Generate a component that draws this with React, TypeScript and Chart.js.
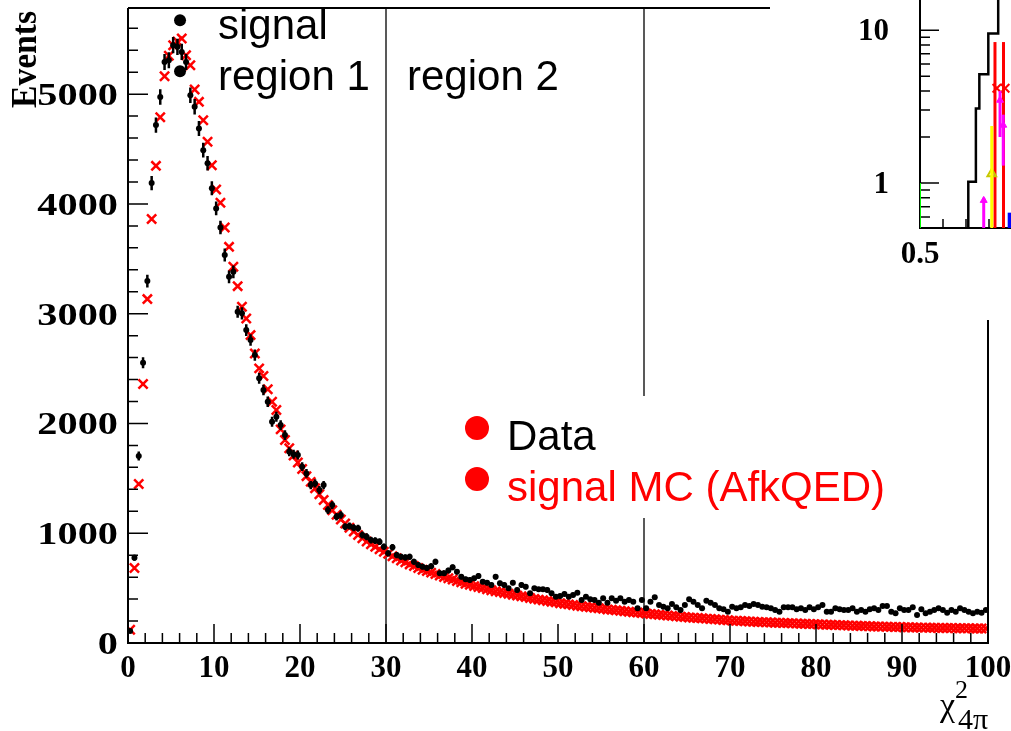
import React, { useEffect, useRef } from "react";
import { Chart, registerables } from "chart.js";
Chart.register(...registerables);

// ---------- main histogram data (bins of width 0.5 on chi2 from 0 to 100) ----------
const BIN_WIDTH = 0.5;
const X_MIN = 0;
const X_MAX = 100;
const Y_MAX = 5785;

const dataCounts: number[] = [
  110, 777, 1703, 2553, 3297, 4190, 4718, 4975, 5294, 5310, 5446, 5431, 5385, 5294, 4990, 4885, 4687, 4490, 4370, 4143, 3959, 3786,
  3534, 3336, 3382, 3017, 3003, 2851, 2760, 2623, 2411, 2304, 2198, 2016, 2061, 1985, 1894, 1742, 1720, 1712, 1606, 1545, 1439, 1454, 1393, 1439, 1211, 1257, 1150, 1166,
  1059, 1066, 1050, 1045, 984, 968, 938, 932, 923, 877, 817, 872, 801, 786, 780, 786, 740, 710, 695, 683, 700, 740,
  635, 635, 660, 689, 649, 604, 580, 574, 589, 610,
  558, 549, 528, 604, 544, 528, 498, 549, 483, 528,
  513, 453, 498, 489, 489, 483, 453, 422, 428, 446,
  422, 437, 458, 392, 422, 398, 392, 367, 407, 367,
  407, 385, 407, 376, 392, 376, 316, 392, 316, 376,
  416, 346, 331, 316, 355, 325, 301, 346, 398, 376,
  346, 316, 385, 367, 346, 316, 307, 285, 331, 316,
  325, 346, 337, 355, 346, 331, 325, 316, 301, 285,
  325, 325, 325, 307, 316, 301, 325, 307, 325, 346,
  285, 285, 316, 307, 301, 301, 316, 285, 301, 285,
  307, 316, 301, 337, 337, 285, 270, 316, 301, 301,
  325, 255, 307, 270, 285, 301, 316, 301, 276, 301,
  285, 316, 301, 285, 270, 285, 276, 301,
];

const mcCounts: number[] = [
  120, 683, 1448, 2359, 3133, 3862, 4347, 4790, 5164, 5350, 5446, 5480, 5507, 5355, 5264, 5043, 4930, 4763, 4566, 4353,
  4132, 4010, 3786, 3609, 3427, 3251, 3063, 2957, 2805, 2638, 2502, 2432, 2311, 2198, 2122, 1946, 1849,
  1775, 1708, 1645, 1585, 1520, 1468, 1410, 1355, 1302, 1258, 1210, 1168, 1125, 1088, 1050, 1015, 984, 955, 925, 900, 876, 853, 832,
  812, 790, 772, 751, 735, 716, 701, 684, 668, 655, 641, 628, 615, 602, 590, 578, 565, 553, 540, 530,
  518, 510, 500, 490, 481, 472, 465, 455, 448, 440, 432, 425, 418, 410, 402, 395, 390, 382, 376, 370,
  362, 357, 352, 346, 340, 335, 330, 326, 320, 316, 311, 306, 302, 298, 294, 289, 285, 281, 277, 272,
  268, 265, 262, 258, 254, 250, 247, 244, 240, 237, 233, 230, 228, 225, 222, 219, 216, 213, 210, 207,
  204, 202, 200, 198, 196, 194, 192, 190, 189, 187, 185, 184, 182, 181, 179, 178, 176, 175, 173, 172,
  170, 169, 167, 166, 164, 163, 161, 160, 158, 157, 155, 154, 152, 151, 150, 149, 148, 147, 146, 145,
  144, 143, 142, 141, 140, 140, 139, 138, 137, 137, 136, 136, 135, 135, 134, 134, 133, 133, 132, 132,
];

const binCenters: number[] = dataCounts.map((_, i) => X_MIN + BIN_WIDTH * (i + 0.5));

// big black markers drawn near the peak
const markerX = [6.05, 6.05];
const markerY = [5674, 5209];

// region boundaries
const regionLines = [30, 60];
const xTickLabels = ["0", "10", "20", "30", "40", "50", "60", "70", "80", "90", "100"];
const yTickLabels = ["0", "1000", "2000", "3000", "4000", "5000"];

// ---------- inset (log scale) ----------
const insetEdges = [0.5, 0.71, 0.743, 0.758, 0.797, 0.84, 0.95];
const insetCounts = [0.4, 1.02, 3.07, 5.15, 9.5, 40];
const insetGreen = { x: 0.5, low: 0.4, high: 1.0 };
const insetYellow = { x: 0.812, low: 0.4, high: 2.36, mark: 1.15 };
const insetRedX = [0.826, 0.863];
const insetRedTop = [8.36, 8.36];
const insetRedMarkX = [0.834, 0.87];
const insetRedMarkY = [4.17, 4.17];
const insetMagentaX = [0.777, 0.848, 0.862];
const insetMagentaLow = [0.4, 2.0, 1.3];
const insetMagentaHigh = [0.8, 4.0, 2.8];
const insetMagentaMark = [0.77, 3.48, 2.39];
const insetBlue = { x: 0.89, low: 0.4, high: 0.64 };
const insetYLabels = ["1", "10"];

const SERIF = '"Liberation Serif", "Times New Roman", serif';
const SANS = '"Liberation Sans", Arial, sans-serif';

const mainDecor = {
  id: "mainDecor",
  beforeDatasetsDraw(chart: any) {
    const { ctx, chartArea: a } = chart;
    const x = chart.scales.x;
    ctx.save();
    ctx.strokeStyle = "#222";
    ctx.lineWidth = 1.5;
    regionLines.forEach((v) => {
      const px = x.getPixelForValue(v);
      ctx.beginPath();
      ctx.moveTo(px, a.top);
      ctx.lineTo(px, a.bottom);
      ctx.stroke();
    });
    ctx.restore();
  },
  afterDatasetsDraw(chart: any) {
    const { ctx } = chart;
    const x = chart.scales.x;
    const y = chart.scales.y;
    ctx.save();
    ctx.strokeStyle = "#000";
    ctx.lineWidth = 2.5;
    ctx.beginPath();
    dataCounts.forEach((v, i) => {
      const cx = x.getPixelForValue(binCenters[i]);
      const e = Math.sqrt(v);
      ctx.moveTo(cx, y.getPixelForValue(v + e));
      ctx.lineTo(cx, y.getPixelForValue(Math.max(0, v - e)));
    });
    ctx.stroke();
    ctx.lineWidth = 1.5;
    ctx.beginPath();
    dataCounts.forEach((v, i) => {
      const py = y.getPixelForValue(v);
      ctx.moveTo(x.getPixelForValue(binCenters[i] - BIN_WIDTH / 2), py);
      ctx.lineTo(x.getPixelForValue(binCenters[i] + BIN_WIDTH / 2), py);
    });
    ctx.stroke();
    ctx.restore();
  },
  afterDraw(chart: any) {
    const { ctx, chartArea: a } = chart;
    const x = chart.scales.x;
    const y = chart.scales.y;
    ctx.save();
    // frame
    ctx.strokeStyle = "#000";
    ctx.lineWidth = 2;
    ctx.beginPath();
    ctx.moveTo(a.left, a.top);
    ctx.lineTo(a.left, a.bottom);
    ctx.lineTo(a.right, a.bottom);
    ctx.lineTo(a.right, a.top);
    ctx.lineTo(a.left, a.top);
    ctx.stroke();
    // ticks (inward)
    ctx.lineWidth = 1.5;
    ctx.beginPath();
    for (let v = X_MIN; v <= X_MAX; v += 2) {
      const px = x.getPixelForValue(v);
      const len = v % 10 === 0 ? 19 : 10;
      ctx.moveTo(px, a.bottom);
      ctx.lineTo(px, a.bottom - len);
    }
    for (let v = 0; v <= Y_MAX; v += 200) {
      const py = y.getPixelForValue(v);
      const len = v % 1000 === 0 ? 20 : 10;
      ctx.moveTo(a.left, py);
      ctx.lineTo(a.left + len, py);
    }
    ctx.stroke();
    // tick labels
    ctx.fillStyle = "#000";
    ctx.font = `bold 31px ${SERIF}`;
    ctx.textAlign = "center";
    ctx.textBaseline = "alphabetic";
    xTickLabels.forEach((t) => {
      ctx.fillText(t, x.getPixelForValue(Number(t)), 677);
    });
    ctx.textAlign = "right";
    yTickLabels.forEach((t) => {
      const py = y.getPixelForValue(Number(t));
      ctx.save();
      ctx.translate(118, py + 11);
      ctx.scale(1.26, 1);
      ctx.font = `bold 32px ${SERIF}`;
      ctx.fillText(t, 0, 0);
      ctx.restore();
    });
    // y title
    ctx.save();
    ctx.translate(36, 108);
    ctx.rotate(-Math.PI / 2);
    ctx.scale(0.96, 1);
    ctx.textAlign = "left";
    ctx.font = `bold 35px ${SERIF}`;
    ctx.fillText("Events", 0, 0);
    ctx.restore();
    // x title chi^2_{4pi}
    ctx.textAlign = "left";
    ctx.font = `34px ${SERIF}`;
    ctx.fillText("χ", 940, 716);
    ctx.font = `26px ${SERIF}`;
    ctx.fillText("2", 955, 698);
    ctx.font = `30px ${SERIF}`;
    ctx.fillText("4π", 958, 729);
    // region labels
    ctx.font = `42px ${SANS}`;
    ctx.fillText("signal", 218, 39);
    ctx.fillText("region 1", 218, 90);
    ctx.fillText("region 2", 407, 90);
    // legend box
    ctx.fillStyle = "#fff";
    ctx.fillRect(455, 396, 440, 122);
    ctx.fillStyle = "#ff0000";
    ctx.beginPath();
    ctx.arc(477, 428, 12, 0, Math.PI * 2);
    ctx.fill();
    ctx.beginPath();
    ctx.arc(477, 479, 12, 0, Math.PI * 2);
    ctx.fill();
    ctx.font = `42px ${SANS}`;
    ctx.fillStyle = "#000";
    ctx.fillText("Data", 507, 450);
    ctx.fillStyle = "#ff0000";
    ctx.fillText("signal MC (AfkQED)", 507, 501);
    ctx.restore();
  },
};

const insetDecor = {
  id: "insetDecor",
  beforeDraw(chart: any) {
    const { ctx, width, height } = chart;
    ctx.save();
    ctx.fillStyle = "#fff";
    ctx.fillRect(0, 0, width, height);
    ctx.restore();
  },
  beforeDatasetsDraw(chart: any) {
    const { ctx, chartArea: a } = chart;
    const x = chart.scales.x;
    const y = chart.scales.y;
    ctx.save();
    ctx.strokeStyle = "#000";
    ctx.lineWidth = 2;
    ctx.beginPath();
    ctx.moveTo(a.left, a.top);
    ctx.lineTo(a.left, a.bottom);
    ctx.lineTo(chart.width, a.bottom);
    ctx.stroke();
    ctx.lineWidth = 1.5;
    ctx.beginPath();
    [0.6, 0.7, 0.8, 0.9, 2, 3, 4, 5, 6, 7, 8, 9].forEach((v) => {
      const py = y.getPixelForValue(v);
      ctx.moveTo(a.left, py);
      ctx.lineTo(a.left + 10, py);
    });
    [1, 10].forEach((v) => {
      const py = y.getPixelForValue(v);
      ctx.moveTo(a.left, py);
      ctx.lineTo(a.left + 19, py);
    });
    [0.6, 0.7, 0.8, 0.9].forEach((v) => {
      const px = x.getPixelForValue(v);
      ctx.moveTo(px, a.bottom);
      ctx.lineTo(px, a.bottom - 9);
    });
    ctx.stroke();
    ctx.restore();
  },
  afterDraw(chart: any) {
    const { ctx, chartArea: a } = chart;
    const x = chart.scales.x;
    const y = chart.scales.y;
    ctx.save();
    ctx.fillStyle = "#000";
    ctx.font = `bold 31px ${SERIF}`;
    ctx.textAlign = "right";
    insetYLabels.forEach((t) => {
      ctx.fillText(t, a.left - 31, y.getPixelForValue(Number(t)) + 10);
    });
    ctx.textAlign = "center";
    ctx.fillText("0.5", x.getPixelForValue(0.5), 263);
    ctx.restore();
  },
};

function seg(xv: number, lo: number, hi: number) {
  return [
    { x: xv, y: lo },
    { x: xv, y: hi },
  ];
}

export default function App() {
  const mainRef = useRef<HTMLCanvasElement>(null);
  const insetRef = useRef<HTMLCanvasElement>(null);

  useEffect(() => {
    document.body.style.margin = "0";
    const main = new Chart(mainRef.current as HTMLCanvasElement, {
      type: "scatter",
      data: {
        datasets: [
          {
            label: "markers",
            data: markerX.map((v, i) => ({ x: v, y: markerY[i] })),
            pointStyle: "circle",
            pointRadius: 6,
            pointBackgroundColor: "#000",
            pointBorderColor: "#000",
            pointBorderWidth: 0,
          },
          {
            label: "Data",
            data: dataCounts.map((v, i) => ({ x: binCenters[i], y: v })),
            pointStyle: "circle",
            pointRadius: 3,
            pointBackgroundColor: "#000",
            pointBorderColor: "#000",
            pointBorderWidth: 0,
          },
          {
            label: "signal MC (AfkQED)",
            data: mcCounts.map((v, i) => ({ x: binCenters[i], y: v })),
            pointStyle: "crossRot",
            pointRadius: 6.5,
            pointBorderColor: "#ff0000",
            pointBackgroundColor: "#ff0000",
            pointBorderWidth: 2.5,
          },
        ],
      },
      options: {
        responsive: false,
        animation: false,
        devicePixelRatio: 1,
        layout: { autoPadding: false, padding: { left: 0, right: 23, top: 8, bottom: 0 } },
        plugins: { legend: { display: false }, tooltip: { enabled: false } },
        scales: {
          x: {
            type: "linear",
            min: X_MIN,
            max: X_MAX,
            ticks: { display: false },
            grid: { display: false },
            border: { display: false },
            afterFit: (s: any) => {
              s.height = 88;
            },
          },
          y: {
            type: "linear",
            min: 0,
            max: Y_MAX,
            ticks: { display: false },
            grid: { display: false },
            border: { display: false },
            afterFit: (s: any) => {
              s.width = 128;
            },
          },
        },
      },
      plugins: [mainDecor],
    } as any);

    const stepPts = insetEdges.map((e, i) => ({ x: e, y: insetCounts[Math.min(i, insetCounts.length - 1)] }));
    const lineDs = (data: any[], color: string, width: number) => ({
      data,
      showLine: true,
      borderColor: color,
      borderWidth: width,
      pointRadius: 0,
    });
    const inset = new Chart(insetRef.current as HTMLCanvasElement, {
      type: "scatter",
      data: {
        datasets: [
          ...insetMagentaX.map((xv, i) => lineDs(seg(xv, insetMagentaLow[i], insetMagentaHigh[i]), "#ff00ff", 3)),
          {
            data: insetMagentaX.map((xv, i) => ({ x: xv, y: insetMagentaMark[i] })),
            pointStyle: "triangle",
            pointRadius: 4,
            pointBackgroundColor: "#ff00ff",
            pointBorderColor: "#ff00ff",
          },
          lineDs(seg(insetYellow.x, insetYellow.low, insetYellow.high), "#ffff00", 3),
          {
            data: [{ x: insetYellow.x, y: insetYellow.mark }],
            pointStyle: "triangle",
            pointRadius: 5,
            pointBackgroundColor: "rgba(0,0,0,0)",
            pointBorderColor: "#c8c800",
            pointBorderWidth: 2,
          },
          ...insetRedX.map((xv, i) => lineDs(seg(xv, 0.4, insetRedTop[i]), "#ff0000", 3)),
          {
            data: insetRedMarkX.map((xv, i) => ({ x: xv, y: insetRedMarkY[i] })),
            pointStyle: "crossRot",
            pointRadius: 6,
            pointBorderColor: "#ff0000",
            pointBorderWidth: 2,
          },
          lineDs(seg(insetBlue.x, insetBlue.low, insetBlue.high), "#0000ff", 4),
          lineDs(seg(insetGreen.x, insetGreen.low, insetGreen.high), "#00ff00", 2),
          { ...lineDs(stepPts, "#000", 2.5), stepped: "before" },
        ],
      },
      options: {
        responsive: false,
        animation: false,
        devicePixelRatio: 1,
        layout: { autoPadding: false, padding: { left: 0, right: 35, top: 0, bottom: 0 } },
        plugins: { legend: { display: false }, tooltip: { enabled: false } },
        scales: {
          x: {
            type: "linear",
            min: 0.5,
            max: 1.0,
            ticks: { display: false },
            grid: { display: false },
            border: { display: false },
            afterFit: (s: any) => {
              s.height = 92;
            },
          },
          y: {
            type: "logarithmic",
            min: 0.508,
            max: 15.75,
            ticks: { display: false },
            grid: { display: false },
            border: { display: false },
            afterFit: (s: any) => {
              s.width = 150;
            },
          },
        },
      },
      plugins: [insetDecor],
    } as any);

    return () => {
      main.destroy();
      inset.destroy();
    };
  }, []);

  return (
    <div
      style={{
        position: "fixed",
        left: 0,
        top: 0,
        width: 1011,
        height: 731,
        overflow: "hidden",
        background: "#fff",
      }}
    >
      <canvas ref={mainRef} width={1011} height={731} style={{ position: "absolute", left: 0, top: 0 }} />
      <canvas ref={insetRef} width={300} height={320} style={{ position: "absolute", left: 770, top: 0 }} />
    </div>
  );
}
